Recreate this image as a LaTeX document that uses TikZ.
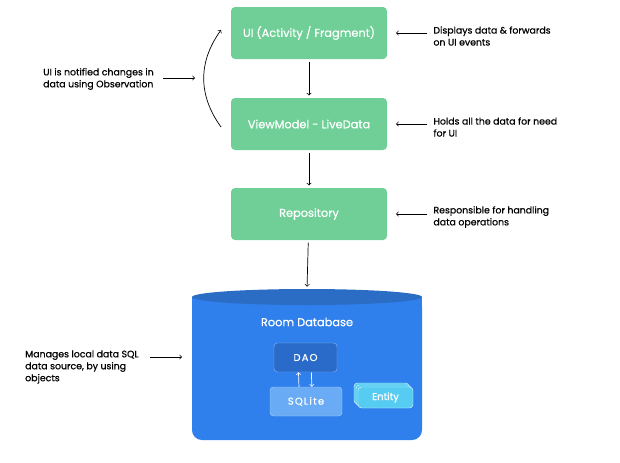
\documentclass[tikz,border=0pt]{standalone}
\usepackage{fontspec}
\setmainfont{Poppins}[FakeBold=0.6]
\usepackage{xcolor}
\usetikzlibrary{arrows,positioning,calc}

\definecolor{layergreen}{HTML}{6FCF97}
\definecolor{roombody}{HTML}{2F80ED}
\definecolor{roomtop}{HTML}{2B6CC4}
\definecolor{daoblue}{HTML}{2A6BC9}
\definecolor{daoline}{HTML}{7FB2F2}
\definecolor{sqlblue}{HTML}{6AABF5}
\definecolor{sqlline}{HTML}{A3CBFA}
\definecolor{entityblue}{HTML}{56CCF2}

\begin{document}
\begin{tikzpicture}[x=0.03cm, y=-0.03cm,
  layer/.style={rectangle, rounded corners=3.4pt, fill=layergreen, text=white,
    minimum width=4.68cm, minimum height=1.56cm, inner sep=0pt,
    font=\fontsize{9.7}{11}\selectfont},
  note/.style={anchor=west, align=left, inner sep=0pt,
    font=\fontsize{8}{10.2}\selectfont},
  innerbox/.style={rectangle, rounded corners=3pt, text=white, inner sep=0pt,
    minimum height=0.87cm, font=\fontsize{8.5}{10}\selectfont\addfontfeatures{LetterSpace=12}},
  entitybox/.style={rectangle, rounded corners=3pt, fill=entityblue, draw=white!80!entityblue,
    minimum width=1.65cm, minimum height=0.63cm, inner sep=0pt, text=white,
    font=\fontsize{8.5}{10}\selectfont},
  flow/.style={->, line width=0.6pt, black},
  small/.style={->, line width=0.6pt, white}]

 \useasboundingbox (0,0) rectangle (620,462);

 % layers
 \node[layer] (ui) at (309,33) {UI (Activity / Fragment)};
 \node[layer] (vm) at (309,124) {ViewModel - LiveData};
 \node[layer] (repo) at (309,214) {Repository};

 % database cylinder
 \fill[roombody, rounded corners=8.5pt] (192,297) rectangle (422,440);
 \fill[roombody] (192,297) rectangle (422,320);
 \fill[roomtop] (307,297) ellipse [x radius=115, y radius=8];
 \coordinate (dbtop) at (307,289);
 \coordinate (dbside) at (182,357);

 \node[text=white, font=\fontsize{9.7}{11}\selectfont] (room) at (307,322) {Room Database};
 \node[innerbox, fill=daoblue, draw=daoline, minimum width=1.89cm] (dao) at (305.5,357.5) {DAO};
 \node[innerbox, fill=sqlblue, draw=sqlline, minimum width=2.16cm] (sql) at (306,401.5) {SQLite};

 \foreach \d in {4,2}
   \node[entitybox] at (385.5-\d,397.5-\d) {};
 \node[entitybox] (entity) at (385.5,397.5) {Entity};

 \draw[small] ([xshift=-6pt]sql.north) -- ([xshift=-6pt]dao.south);
 \draw[small] ([xshift=5pt]dao.south) -- ([xshift=5pt]sql.north);

 % arrows down the stack
 \draw[flow, shorten <=2pt, shorten >=2pt] (ui) -- (vm);
 \draw[flow, shorten <=2pt, shorten >=2pt] (vm) -- (repo);
 \draw[flow, shorten <=2pt, shorten >=2pt] (repo) -- (dbtop);

 % notes on the right
 \foreach \lay/\name/\txt in {ui/uinote/{Displays data \& forwards\\on UI events},
     vm/vmnote/{Holds all the data for need\\for UI},
     repo/reponote/{Responsible for handling\\data operations}} {
   \node[note] (\name) at ($(\lay.east)+(46,3)$) {\txt};
   \draw[flow, shorten <=5pt, shorten >=7.5pt] (\lay.east -| \name.west) -- (\lay.east);
 }

 % observation
 \coordinate (obsA) at (221,127);
 \coordinate (obsB) at (221,30);
 \coordinate (obsC) at (195,78);
 \draw[flow] (obsA) .. controls (198,95) and (198,62) .. (obsB);
 \node[note] (obsnote) at (43,79) {UI is notified changes in\\data using Observation};
 \draw[flow, shorten <=8pt] (obsnote.east |- obsC) -- (obsC);

 \node[note] (dbnote) at (25,367) {Manages local data SQL\\data source, by using\\objects};
 \draw[flow, shorten <=10pt] (dbnote.east |- dbside) -- (dbside);

\end{tikzpicture}
\end{document}
